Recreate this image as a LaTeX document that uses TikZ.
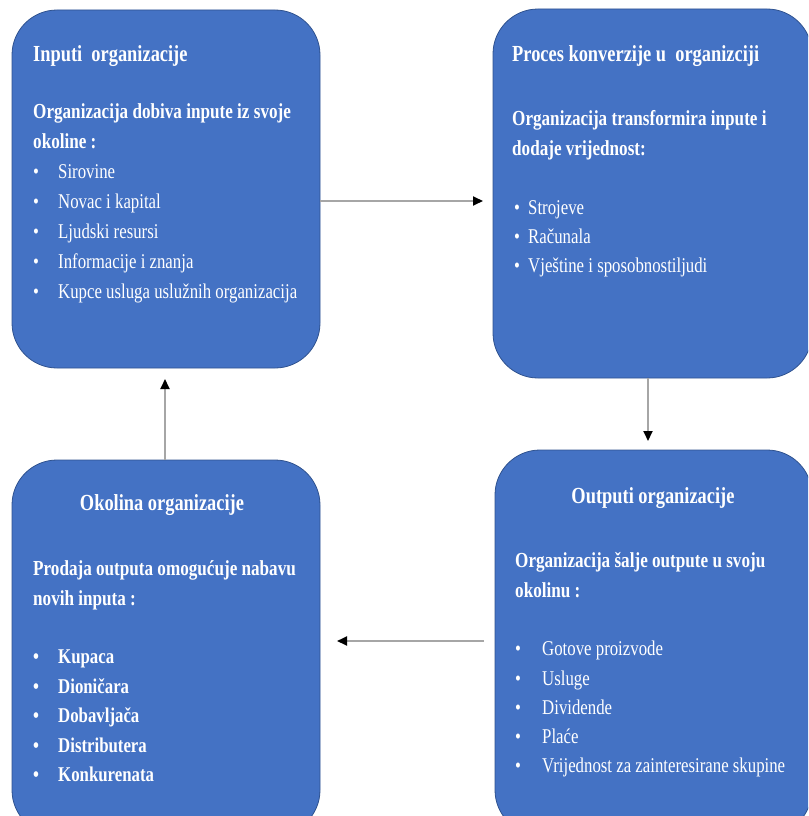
\documentclass[tikz,border=0pt]{standalone}
\usepackage{fontspec}
\setmainfont{Liberation Serif}[FakeStretch=0.8]
\usetikzlibrary{arrows.meta,calc}
\definecolor{boxblue}{HTML}{4472C4}
\definecolor{boxedge}{HTML}{2F528F}
\definecolor{conngray}{HTML}{A6A6A6}
\begin{document}
\begin{tikzpicture}[x=1pt,y=-1pt,
  box/.style={draw=boxedge, line width=0.8pt, fill=boxblue, rounded corners=45pt, inner sep=0pt, outer sep=0pt},
  ttl/.style={anchor=base west, text=white, inner sep=0pt, font=\fontsize{23}{27}\selectfont\bfseries},
  bdy/.style={anchor=base west, text=white, inner sep=0pt, font=\fontsize{21.4}{25}\selectfont\bfseries},
  itm/.style={anchor=base west, text=white, inner sep=0pt, font=\fontsize{21}{25}\selectfont},
  bitm/.style={itm, font=\fontsize{21}{25}\selectfont\bfseries},
  conn/.style={draw=conngray, line width=1.8pt, -{Triangle[length=10pt,width=9pt,color=black,fill=black]}}
]
\useasboundingbox (0,0) rectangle (808,816);
\clip (0,0) rectangle (808,816);
% boxes
\node[box, minimum width=308pt, minimum height=358pt] (b1) at (166,189) {};
\node[box, minimum width=319pt, minimum height=369pt] (b2) at (652.5,193.5) {};
\node[box, minimum width=308pt, minimum height=375pt] (b3) at (166,647.5) {};
\node[box, minimum width=317pt, minimum height=385pt] (b4) at (653.5,642.5) {};
% box 1 text
\node[ttl] (t1) at (33,61) {Inputi\ \ organizacije};
\node[bdy] (t1a) at (33,118) {Organizacija dobiva inpute iz svoje};
\node[bdy] (t1b) at (33,148) {okoline :};
\foreach \y/\s [count=\i] in {178/Sirovine,208/Novac i kapital,238/Ljudski resursi,268/Informacije i znanja,298/Kupce usluga uslužnih organizacija}{
  \node[itm] (p1\i) at (33,\y) {\textbullet};
  \node[itm] (s1\i) at (58,\y) {\s};
}
% box 2 text
\node[ttl] (t2) at (512,62) {Proces konverzije u\ \ organizciji};
\node[bdy] (t2a) at (512,125) {Organizacija transformira inpute i};
\node[bdy] (t2b) at (512,155) {dodaje vrijednost:};
\foreach \y/\s [count=\i] in {214/Strojeve,243/Računala,272/Vještine i sposobnostiljudi}{
  \node[itm] (p2\i) at (514,\y) {\textbullet};
  \node[itm] (s2\i) at (528,\y) {\s};
}
% box 3 text
\node[ttl, anchor=base] (t3) at (162,510) {Okolina organizacije};
\node[bdy] (t3a) at (33,575) {Prodaja outputa omogućuje nabavu};
\node[bdy] (t3b) at (33,605) {novih inputa :};
\foreach \y/\s [count=\i] in {663/Kupaca,693/Dioničara,722/Dobavljača,752/Distributera,781/Konkurenata}{
  \node[bitm] (p3\i) at (33,\y) {\textbullet};
  \node[bitm] (s3\i) at (58,\y) {\s};
}
% box 4 text
\node[ttl, anchor=base] (t4) at (653,503) {Outputi organizacije};
\node[bdy] (t4a) at (515,567) {Organizacija šalje outpute u svoju};
\node[bdy] (t4b) at (515,597) {okolinu :};
\foreach \y/\s [count=\i] in {655/Gotove proizvode,685/Usluge,714/Dividende,743/Plaće,772/Vrijednost za zainteresirane skupine}{
  \node[itm] (p4\i) at (515,\y) {\textbullet};
  \node[itm] (s4\i) at (542,\y) {\s};
}
% connectors
\draw[conn, shorten >=10pt] ($(b1.east)+(0,12)$) -- ($(b2.west)+(0,7.5)$);
\draw[conn, shorten >=9pt] ($(b2.south)+(-4.5,0)$) -- ($(b4.north)+(-5.5,0)$);
\draw[conn, shorten <=11pt, shorten >=17pt] ($(b4.west)+(0,-1.5)$) -- ($(b3.east)+(0,-6.5)$);
\draw[conn, shorten <=0pt, shorten >=11pt] ($(b3.north)+(-1,0)$) -- ($(b1.south)+(-1,0)$);
\end{tikzpicture}
\end{document}
